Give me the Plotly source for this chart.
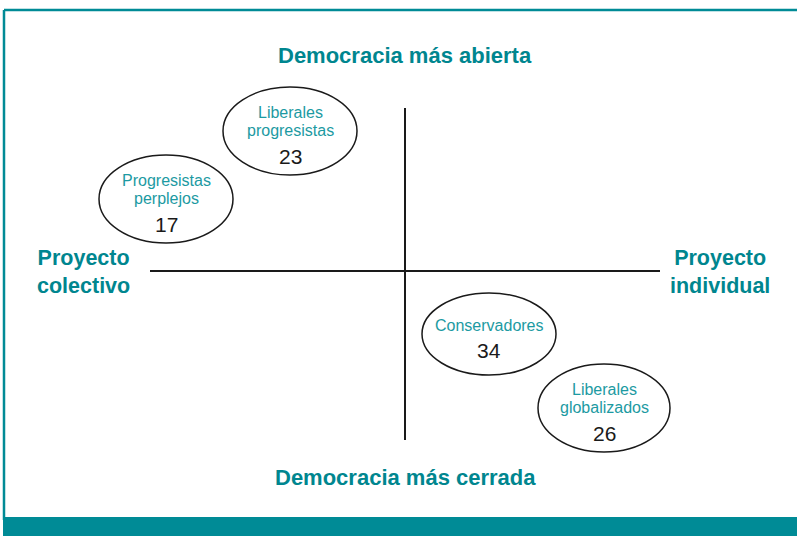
import plotly.graph_objects as go

# ---- data ----
segments = ["Liberales<br>progresistas", "Progresistas<br>perplejos", "Conservadores", "Liberales<br>globalizados"]
shares = [23, 17, 34, 26]
# position of each segment on the map (map units; axes cross at 0,0)
map_x = [-115, -239, 84, 199]
map_y = [140, 72, -63, -137]
axis_titles_top = "Democracia más abierta"
axis_titles_bottom = "Democracia más cerrada"
axis_titles_left = "Proyecto<br>colectivo"
axis_titles_right = "Proyecto<br>individual"

TEAL = "#008b96"
TEAL_TITLE = "#00868f"
TEAL_TXT = "#1c9aa2"
W, H = 797, 536
OX, OY = 405, 271  # pixel position of the axes crossing

fig = go.Figure()
fig.add_trace(go.Scatter(x=[OX + v for v in map_x], y=[OY - v for v in map_y],
                         mode="markers", marker=dict(opacity=0), hoverinfo="skip", showlegend=False))

shapes = []
annotations = []
rx_list = [67, 67, 67, 66]
ry_list = [44, 44, 41, 44]
for seg, val, mx, my, rx, ry in zip(segments, shares, map_x, map_y, rx_list, ry_list):
    cx, cy = OX + mx, OY - my
    shapes.append(dict(type="circle", xref="x", yref="y", x0=cx - rx, x1=cx + rx, y0=cy - ry, y1=cy + ry,
                       line=dict(color="#1a1a1a", width=1.5), fillcolor="rgba(0,0,0,0)"))
    lines = seg.split("<br>")
    if len(lines) == 2:
        ys = [cy - 19, cy - 1]
        ny = cy + 25
    else:
        ys = [cy - 9]
        ny = cy + 16
    for ln, ly in zip(lines, ys):
        annotations.append(dict(x=cx, y=ly, xref="x", yref="y", text=ln, showarrow=False,
                                font=dict(family="Liberation Sans", size=16, color=TEAL_TXT),
                                xanchor="center", yanchor="middle", align="center"))
    annotations.append(dict(x=cx, y=ny, xref="x", yref="y", text=str(val), showarrow=False,
                            font=dict(family="Liberation Sans", size=21, color="#1a1a1a"),
                            xanchor="center", yanchor="middle"))

# cross axes
shapes.append(dict(type="line", xref="x", yref="y", x0=150, x1=660, y0=OY, y1=OY, line=dict(color="#1a1a1a", width=2)))
shapes.append(dict(type="line", xref="x", yref="y", x0=OX, x1=OX, y0=108, y1=440, line=dict(color="#1a1a1a", width=2)))
# frame
shapes.append(dict(type="line", xref="x", yref="y", x0=4, x1=W + 5, y0=10, y1=10, line=dict(color=TEAL, width=2.5)))
shapes.append(dict(type="line", xref="x", yref="y", x0=4, x1=4, y0=10, y1=520, line=dict(color=TEAL, width=2.5)))
shapes.append(dict(type="rect", xref="x", yref="y", x0=3, x1=W + 5, y0=517, y1=H + 5, line=dict(width=0), fillcolor=TEAL))

tfont = dict(family="Liberation Sans", size=22, color=TEAL_TITLE)
sfont = dict(family="Liberation Sans", size=21.5, color=TEAL_TITLE)
annotations += [
    dict(x=405, y=55, xref="x", yref="y", text="<b>%s</b>" % axis_titles_top, showarrow=False, font=tfont),
    dict(x=405, y=477, xref="x", yref="y", text="<b>%s</b>" % axis_titles_bottom, showarrow=False, font=tfont),
    dict(x=83, y=272, xref="x", yref="y", text="<b>%s</b>" % axis_titles_left, showarrow=False, font=sfont, align="center"),
    dict(x=720, y=272, xref="x", yref="y", text="<b>%s</b>" % axis_titles_right, showarrow=False, font=sfont, align="center"),
]

fig.update_layout(
    width=W, height=H, margin=dict(l=0, r=0, t=0, b=0),
    paper_bgcolor="white", plot_bgcolor="white",
    xaxis=dict(range=[0, W], visible=False, fixedrange=True),
    yaxis=dict(range=[H, 0], visible=False, fixedrange=True),
    shapes=shapes, annotations=annotations, showlegend=False,
)
fig.write_html("out.html", config={"displayModeBar": False, "staticPlot": True},
               post_script="document.body.style.margin='0';document.body.style.overflow='hidden';")
